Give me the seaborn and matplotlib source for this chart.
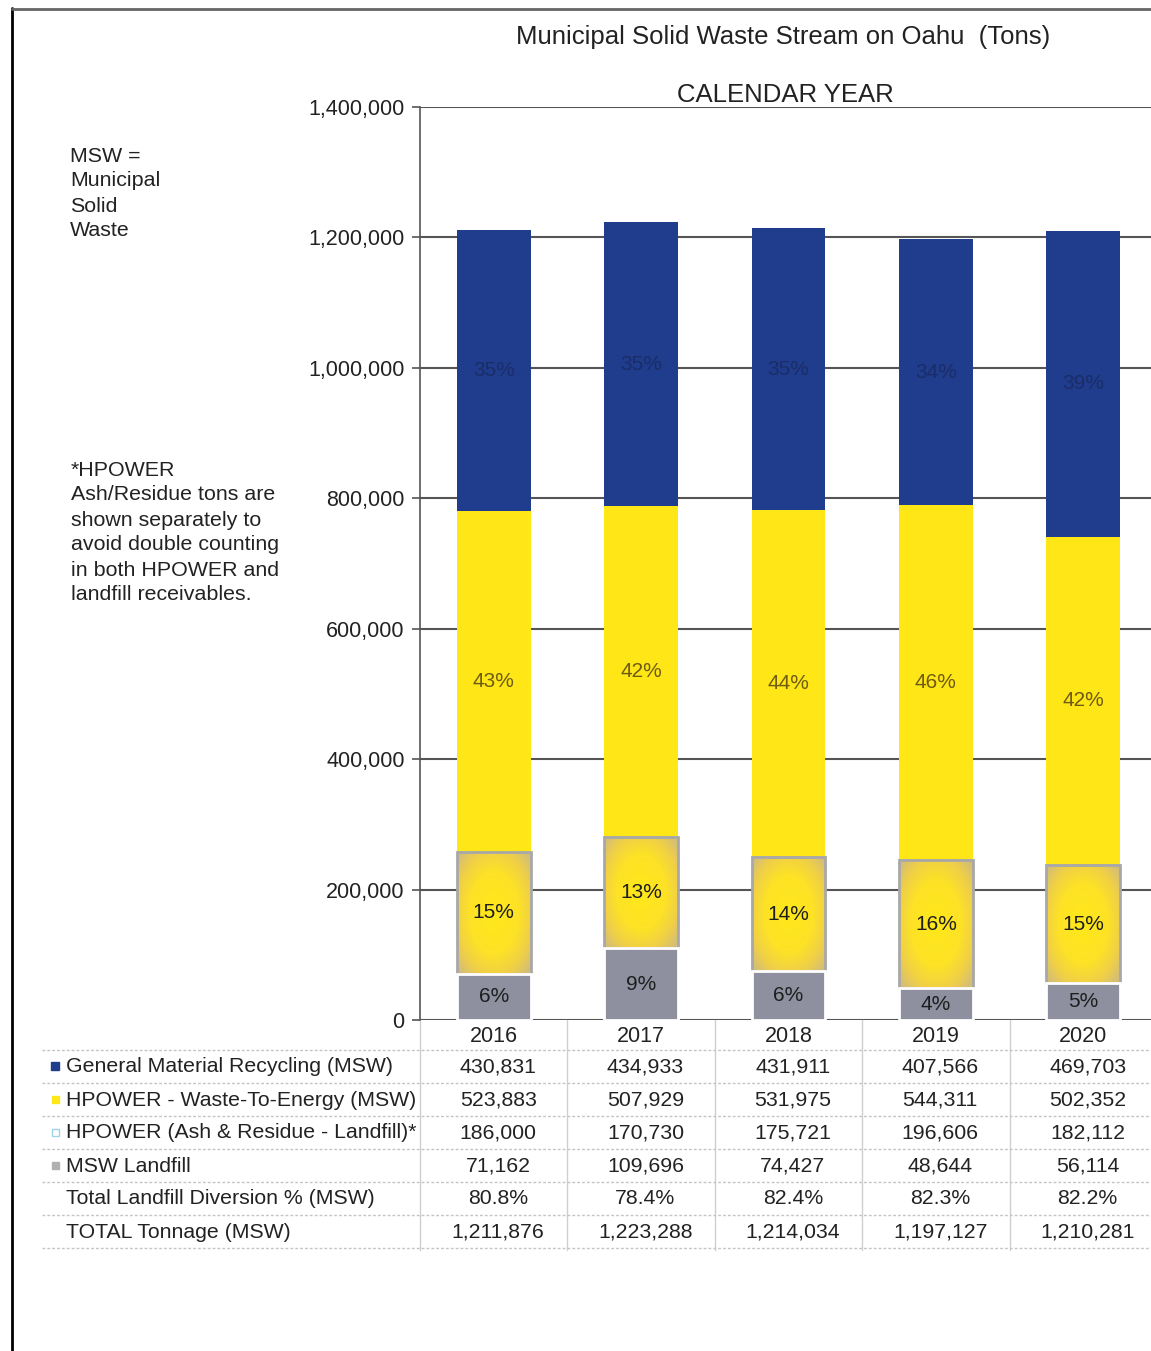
import numpy as np
import pandas as pd
import matplotlib
matplotlib.use("Agg")
import matplotlib.pyplot as plt
import seaborn as sns
from matplotlib.transforms import blended_transform_factory
from matplotlib.colors import LinearSegmentedColormap
from matplotlib.patches import Rectangle
from matplotlib.lines import Line2D
from matplotlib.ticker import FuncFormatter

# ---------------- data ----------------
years = ["2016", "2017", "2018", "2019", "2020"]
recycling = [430831, 434933, 431911, 407566, 469703]
wte = [523883, 507929, 531975, 544311, 502352]
ash = [186000, 170730, 175721, 196606, 182112]
landfill = [71162, 109696, 74427, 48644, 56114]
diversion = ["80.8%", "78.4%", "82.4%", "82.3%", "82.2%"]
total = [1211876, 1223288, 1214034, 1197127, 1210281]

pct_recycling = ["35%", "35%", "35%", "34%", "39%"]
pct_wte = ["43%", "42%", "44%", "46%", "42%"]
pct_ash = ["15%", "13%", "14%", "16%", "15%"]
pct_landfill = ["6%", "9%", "6%", "4%", "5%"]

row_labels = ["General Material Recycling (MSW)",
              "HPOWER - Waste-To-Energy (MSW)",
              "HPOWER (Ash & Residue - Landfill)*",
              "MSW Landfill",
              "Total Landfill Diversion % (MSW)",
              "TOTAL Tonnage (MSW)"]

BLUE = "#1f3d8c"
YELLOW = "#ffe617"
GRAY = "#8e90a0"

# ---------------- setup ----------------
sns.set_style("white")
plt.rcParams['font.family'] = ['Liberation Sans', 'DejaVu Sans']

W, H = 1151, 1351
fig = plt.figure(figsize=(W / 100, H / 100), dpi=100)


def fx(px):
    return px / W


def fy(py):
    return 1 - py / H


ax = fig.add_axes([fx(420), fy(1020), fx(1151) - fx(420), fy(107) - fy(1020)])

c_land = np.array(landfill)
c_ash = c_land + np.array(ash)
c_wte = c_ash + np.array(wte)
c_rec = c_wte + np.array(recycling)

df = pd.DataFrame({"year": years, "c_rec": c_rec, "c_wte": c_wte,
                   "c_ash": c_ash, "c_land": c_land})

sns.barplot(data=df, x="year", y="c_rec", color=BLUE, saturation=1,
            width=0.5, linewidth=0, ax=ax, zorder=2)
sns.barplot(data=df, x="year", y="c_wte", color=YELLOW, saturation=1,
            width=0.5, linewidth=0, ax=ax, zorder=2)
n_before = len(ax.patches)
sns.barplot(data=df, x="year", y="c_ash", color="#e8c63a", saturation=1,
            width=0.5, linewidth=0, ax=ax, zorder=2)
ash_patches = ax.patches[n_before:]

# radial gradient for ash bars
ny, nx = 120, 60
yy, xx = np.mgrid[0:1:ny * 1j, 0:1:nx * 1j]
rr = np.sqrt(((xx - 0.5) / 0.5) ** 2 + ((yy - 0.5) / 0.5) ** 2)
cmap = LinearSegmentedColormap.from_list(
    "ash", [(0, "#ffe81a"), (0.5, "#fde226"), (0.78, "#efcf48"), (1.0, "#d2bd7a")])
for i, p in enumerate(ash_patches):
    x0 = p.get_x()
    x1 = x0 + p.get_width()
    y0 = landfill[i]
    y1 = c_ash[i]
    ax.imshow(rr, extent=[x0, x1, y0, y1], aspect="auto", cmap=cmap,
              vmin=0, vmax=1.35, zorder=2.1, interpolation="bilinear")
    ax.add_patch(Rectangle((x0, y0), x1 - x0, y1 - y0, fill=False,
                           edgecolor="#a8a8a8", lw=2, zorder=2.2))

n_before = len(ax.patches)
sns.barplot(data=df, x="year", y="c_land", color=GRAY, saturation=1,
            width=0.5, edgecolor="white", linewidth=2, ax=ax, zorder=2.3)
for p in ax.patches[n_before:]:
    p.set_zorder(2.3)

# segment labels
for i in range(len(years)):
    ax.text(i, c_wte[i] + recycling[i] / 2, pct_recycling[i], ha="center",
            va="center", fontsize=15, color="#1b2d68", zorder=5)
    ax.text(i, c_ash[i] + wte[i] / 2, pct_wte[i], ha="center",
            va="center", fontsize=15, color="#6e5c12", zorder=5)
    ax.text(i, c_land[i] + ash[i] / 2, pct_ash[i], ha="center",
            va="center", fontsize=15, color="#1e1e1e", zorder=5)
    ax.text(i, landfill[i] / 2, pct_landfill[i], ha="center",
            va="center", fontsize=15, color="#1e1e1e", zorder=5)

# axes styling
ax.set_xlim(-0.5, 4.46)
ax.set_ylim(0, 1400000)
ax.set_yticks(np.arange(0, 1400001, 200000))
ax.yaxis.set_major_formatter(FuncFormatter(lambda v, _: f"{int(v):,}"))
ax.set_axisbelow(True)
ax.yaxis.grid(True, color="#555555", lw=1.5)
ax.xaxis.grid(False)
ax.tick_params(axis="y", left=True, length=6, width=1.2, color="#555555",
               labelsize=15.5, pad=5, labelcolor="#222222")
ax.tick_params(axis="x", length=0, labelsize=15.5, pad=4, labelcolor="#222222")
ax.set_xlabel("")
ax.set_ylabel("")
for s in ["top", "right", "bottom"]:
    ax.spines[s].set_visible(False)
ax.spines["left"].set_color("#555555")
ax.spines["left"].set_linewidth(1.2)

# titles
fig.text(fx(783), fy(37), "Municipal Solid Waste Stream on Oahu  (Tons)",
         ha="center", va="center", fontsize=18.5, color="#222222")
fig.text(fx(785), fy(95), "CALENDAR YEAR", ha="center", va="center",
         fontsize=18.5, color="#222222")

# left notes
for k, line in enumerate(["MSW =", "Municipal", "Solid", "Waste"]):
    fig.text(fx(70), fy(156 + 25 * k), line, ha="left", va="center",
             fontsize=15.4, color="#222222")
for k, line in enumerate(["*HPOWER", "Ash/Residue tons are", "shown separately to",
                          "avoid double counting", "in both HPOWER and",
                          "landfill receivables."]):
    fig.text(fx(71), fy(470 + 25 * k), line, ha="left", va="center",
             fontsize=15.4, color="#222222")

# data table
tr = blended_transform_factory(ax.transData, fig.transFigure)
row_y = [1067, 1100, 1133, 1166, 1199, 1232]
rows = [[f"{v:,}" for v in recycling],
        [f"{v:,}" for v in wte],
        [f"{v:,}" for v in ash],
        [f"{v:,}" for v in landfill],
        diversion,
        [f"{v:,}" for v in total]]
for r, (lab, vals, yp) in enumerate(zip(row_labels, rows, row_y)):
    fig.text(fx(66), fy(yp), lab, ha="left", va="center", fontsize=15.3,
             color="#222222")
    for i, v in enumerate(vals):
        ax.text(i + 0.03, fy(yp), v, transform=tr, ha="center", va="center",
                fontsize=15.3, color="#222222", clip_on=False)

# legend markers in table
mk = [(BLUE, BLUE, 8), (YELLOW, YELLOW, 7), ("white", "#9fd3e6", 7), ("#b0b0b0", "#b0b0b0", 7)]
for (fc, ec, s), yp in zip(mk, row_y[:4]):
    fig.add_artist(Rectangle((fx(55 - s / 2), fy(yp + s / 2 - 1)), s / W, s / H,
                             transform=fig.transFigure, facecolor=fc,
                             edgecolor=ec, lw=1))

# table grid lines
for yp in [1050, 1083, 1116, 1149, 1182, 1215, 1248]:
    fig.add_artist(Line2D([fx(42), 1], [fy(yp), fy(yp)], color="#c4c4c4",
                          lw=1, ls=(0, (2, 1.5))))
for xb in [-0.5, 0.5, 1.5, 2.5, 3.5]:
    ax.add_artist(Line2D([xb, xb], [fy(1020), fy(1250)], transform=tr,
                         color="#cfcfcf", lw=1, clip_on=False))

# page frame
fig.add_artist(Line2D([fx(12), fx(12)], [fy(8), 0], color="black", lw=2))
fig.add_artist(Line2D([fx(12), 1], [fy(9), fy(9)], color="#666666", lw=2))

fig.savefig("out.png", dpi=100, facecolor="white")
